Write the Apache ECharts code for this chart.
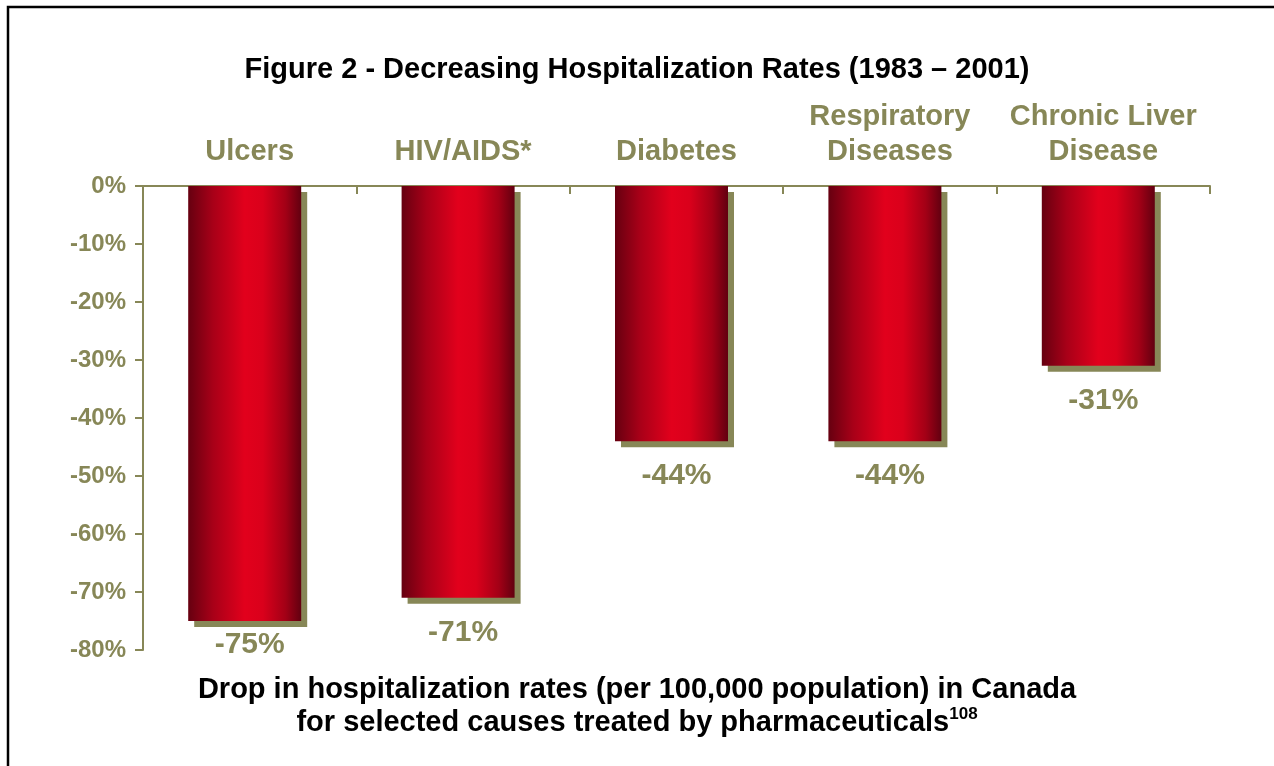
<!DOCTYPE html>
<html>
<head>
<meta charset="utf-8">
<title>Figure 2 - Decreasing Hospitalization Rates</title>
<script src="https://cdn.jsdelivr.net/npm/echarts@6/dist/echarts.min.js"></script>
<style>
    html, body { margin: 0; padding: 0; background: #fff; }
    #chart { width: 1274px; height: 766px; }
</style>
</head>
<body>
<div id="chart"></div>
<script>
    // 数据
    const categories = ['Ulcers', 'HIV/AIDS*', 'Diabetes', 'Respiratory\nDiseases', 'Chronic Liver\nDisease'];
    const dropRates = [-75, -71, -44, -44, -31];
    const axisMin = -80;
    const axisMax = 0;
    const axisStep = 10;

    const olive = '#878757';
    const font = '"Liberation Sans", Arial, sans-serif';

    const chart = echarts.init(document.getElementById('chart'));

    const barFill = new echarts.graphic.LinearGradient(0, 0, 1, 0, [
        { offset: 0, color: '#660010' },
        { offset: 0.22, color: '#A80018' },
        { offset: 0.5, color: '#E2001C' },
        { offset: 0.66, color: '#DA001B' },
        { offset: 0.86, color: '#A30016' },
        { offset: 1, color: '#620010' }
    ]);

    const option = {
        backgroundColor: '#fff',
        animation: false,
        title: [
            {
                text: 'Figure 2 - Decreasing Hospitalization Rates (1983 – 2001)',
                left: 'center',
                top: 50,
                textStyle: { fontFamily: font, fontSize: 29, fontWeight: 'bold', color: '#000' }
            },
            {
                text: '{a|Drop in hospitalization rates (per 100,000 population) in Canada}\n{a|for selected causes treated by pharmaceuticals}{sup|108}',
                left: 'center',
                top: 668,
                textStyle: {
                    rich: {
                        a: { fontFamily: font, fontSize: 29, fontWeight: 'bold', color: '#000', lineHeight: 33 },
                        sup: { fontFamily: font, fontSize: 17, fontWeight: 'bold', color: '#000', lineHeight: 33, verticalAlign: 'top', padding: [0, 0, 14, 0] }
                    }
                }
            }
        ],
        graphic: [
            {
                type: 'rect',
                shape: { x: 8, y: 7, width: 2000, height: 2000 },
                style: { fill: 'none', stroke: '#000', lineWidth: 2.5 },
                silent: true
            }
        ],
        grid: {
            left: 143,
            right: 64,
            top: 186,
            bottom: 116
        },
        xAxis: {
            type: 'category',
            position: 'top',
            data: categories,
            axisLine: { onZero: false, lineStyle: { color: olive, width: 2 } },
            axisTick: { show: true, inside: true, length: 8, lineStyle: { color: olive, width: 2 } },
            axisLabel: {
                margin: 17,
                interval: 0,
                fontFamily: font,
                fontSize: 29,
                fontWeight: 'bold',
                color: olive,
                lineHeight: 35
            },
            splitLine: { show: false }
        },
        yAxis: {
            type: 'value',
            min: axisMin,
            max: axisMax,
            interval: axisStep,
            axisLine: { show: true, lineStyle: { color: olive, width: 2 } },
            axisTick: { show: true, length: 8, lineStyle: { color: olive, width: 2 } },
            axisLabel: {
                margin: 17,
                formatter: '{value}%',
                fontFamily: font,
                fontSize: 24,
                fontWeight: 'bold',
                color: olive
            },
            splitLine: { show: false }
        },
        series: [
            {
                type: 'bar',
                barWidth: 113,
                barGap: 0,
                data: dropRates.map((v, i) => ({
                    value: v,
                    label: i === 0 ? { distance: 9 } : {}
                })),
                itemStyle: {
                    color: barFill,
                    shadowColor: olive,
                    shadowBlur: 0,
                    shadowOffsetX: 6,
                    shadowOffsetY: 6
                },
                label: {
                    show: true,
                    position: 'bottom',
                    distance: 20,
                    offset: [5, 0],
                    formatter: '{c}%',
                    fontFamily: font,
                    fontSize: 30,
                    fontWeight: 'bold',
                    color: olive
                }
            },
            {
                // 占位，让红色柱子连同阴影整体居中
                type: 'bar',
                barWidth: 10,
                barGap: 0,
                silent: true,
                data: dropRates.map(() => 0),
                itemStyle: { color: 'rgba(0,0,0,0)' }
            }
        ]
    };

    chart.setOption(option);
</script>
</body>
</html>
